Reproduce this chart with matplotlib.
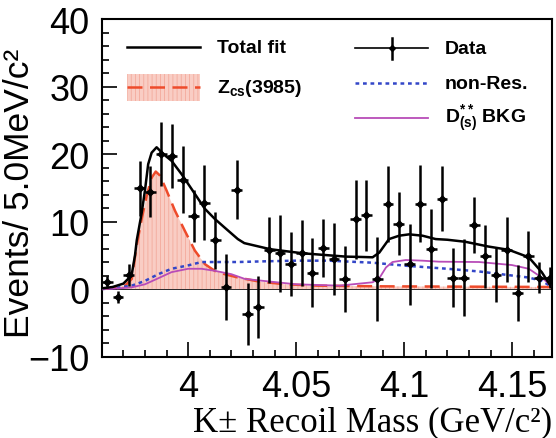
import numpy as np
import matplotlib
matplotlib.use("Agg")
import matplotlib.pyplot as plt
from matplotlib.ticker import MultipleLocator

plt.rcParams['font.family'] = ['Liberation Sans', 'DejaVu Sans']
plt.rcParams['mathtext.fontset'] = 'custom'
plt.rcParams['mathtext.rm'] = 'Liberation Sans:bold'
plt.rcParams['mathtext.default'] = 'rm'
plt.rcParams['hatch.linewidth'] = 0.6

# data histogram, 5 MeV bins starting at 3.96 GeV
bin_start = 3.96
bin_width = 0.005
counts = [1.1, -1.2, 2.1, 14.9, 14.4, 20.0, 19.7, 16.2, 10.8, 12.8,
          7.2, 0.25, 14.7, -3.7, -2.6, 5.8, 5.3, 3.7, 5.3, 2.4,
          6.1, 4.45, 1.5, 10.3, 10.9, 1.5, 12.6, 9.7, 3.7, 12.6,
          6.0, 13.4, 1.7, 1.7, 9.5, 4.85, 2.1, 5.8, -0.6, 4.85,
          1.7, 1.7]
errors = [0.9, 0.9, 1.6, 4.1, 3.8, 4.7, 4.7, 5.0, 3.8, 5.5,
          4.25, 4.9, 4.4, 4.6, 4.6, 4.9, 5.7, 4.7, 4.9, 5.1,
          4.3, 5.3, 4.9, 5.8, 5.2, 6.2, 5.6, 4.6, 6.0, 5.7,
          5.9, 4.8, 4.4, 5.7, 4.1, 4.7, 4.0, 4.8, 4.2, 3.8,
          2.3, 1.5]
centers = bin_start + bin_width * (np.arange(len(counts)) + 0.5)

# fit curves
total_x = [3.960, 3.965, 3.970, 3.9725, 3.9739, 3.9754, 3.9762, 3.9785, 3.980,
           3.9815, 3.9831, 3.9854, 3.9885, 3.9923, 3.997, 4.0031, 4.0077,
           4.0123, 4.0169, 4.023, 4.026, 4.038, 4.0528, 4.073, 4.080, 4.0854,
           4.0885, 4.093, 4.0977, 4.1023, 4.1085, 4.1146, 4.120, 4.1283,
           4.1389, 4.1485, 4.1577, 4.1637, 4.1677]
total_y = [0.1, 0.3, 0.8, 1.6, 2.2, 5.0, 7.2, 11.3, 14.6,
           18.5, 20.2, 21.0, 20.0, 19.0, 17.0, 14.1, 11.9,
           10.4, 9.1, 7.4, 6.8, 5.9, 5.3, 4.8, 4.75, 4.7,
           5.4, 7.4, 7.9, 8.1, 7.9, 7.4, 7.3, 7.0,
           6.3, 5.8, 4.7, 2.5, 0.5]

zcs_x = [3.960, 3.9646, 3.9708, 3.9739, 3.9762, 3.9785, 3.9808, 3.9831, 3.985,
         3.987, 3.990, 3.9939, 3.9985, 4.0031, 4.0077, 4.0123, 4.0169, 4.0231,
         4.033, 4.045, 4.060, 4.090, 4.130, 4.168]
zcs_y = [0.0, 0.15, 0.5, 1.5, 6.5, 10.4, 13.8, 16.5, 17.4,
         16.8, 14.6, 11.6, 8.6, 5.7, 3.7, 2.7, 2.2, 1.7,
         1.1, 0.7, 0.5, 0.4, 0.35, 0.3]

nonres_x = [3.960, 3.965, 3.9739, 3.980, 3.9862, 3.9923, 4.000, 4.0062, 4.0123,
            4.023, 4.035, 4.050, 4.065, 4.0854, 4.1008, 4.120, 4.1347, 4.1499,
            4.1577, 4.1637, 4.168]
nonres_y = [0.0, 0.1, 0.5, 1.2, 2.2, 3.0, 3.5, 4.0, 4.0,
            4.0, 4.1, 4.2, 4.2, 3.9, 3.45, 3.0, 2.6, 2.0,
            1.7, 1.2, 0.4]

dbkg_x = [3.960, 3.966, 3.9739, 3.980, 3.9862, 3.9923, 4.000, 4.0062, 4.0123,
          4.020, 4.0262, 4.035, 4.050, 4.070, 4.0854, 4.0885, 4.0916, 4.0946,
          4.1008, 4.1085, 4.1162, 4.1347, 4.1499, 4.1577, 4.1637, 4.168]
dbkg_y = [0.0, 0.05, 0.25, 0.7, 1.6, 2.5, 3.0, 3.0, 2.7,
          2.2, 1.5, 1.2, 0.7, 0.5, 1.0, 1.6, 3.2, 4.0,
          4.3, 4.2, 4.05, 4.0, 3.55, 3.0, 1.7, 0.5]

red = '#ee4b2b'
pink = '#f9cdc4'
blue = '#3346c8'
magenta = '#b84cb8'

fig = plt.figure(figsize=(5.56, 4.39), dpi=100)
ax = fig.add_axes([0.183, 0.1856, 0.81, 0.7688])

ax.axhline(0, color='black', lw=1.2, zorder=1)
ax.fill_between(zcs_x, 0, zcs_y, facecolor=pink, edgecolor='#f3aa9c',
                hatch='||||', lw=0, zorder=1)
ax.plot(zcs_x, zcs_y, color=red, lw=1.8, dashes=(6, 3), zorder=3)
ax.plot(nonres_x, nonres_y, color=blue, lw=1.8, dashes=(1.5, 1.5), zorder=3)
ax.plot(dbkg_x, dbkg_y, color=magenta, lw=1.3, zorder=3)
ax.plot(total_x, total_y, color='black', lw=1.8, zorder=4)
ax.errorbar(centers, counts, yerr=errors, xerr=bin_width / 2, fmt='D',
            color='black', ms=3.5, elinewidth=1.8, capsize=0, zorder=5)

ax.set_xlim(3.96, 4.1685)
ax.set_ylim(-10, 40)
ax.set_xticks([4.0, 4.05, 4.1, 4.15], ['4', '4.05', '4.1', '4.15'])
ax.set_yticks([-10, 0, 10, 20, 30, 40])
ax.xaxis.set_minor_locator(MultipleLocator(0.01))
ax.yaxis.set_minor_locator(MultipleLocator(2))
ax.tick_params(which='both', direction='in', top=False, right=False,
               labelsize=26, width=1.2)
ax.tick_params(axis='x', which='major', length=11, pad=9)
ax.tick_params(axis='y', which='major', length=11, pad=9)
ax.tick_params(which='minor', length=5)
for s in ax.spines.values():
    s.set_linewidth(1.5)

ax.set_ylabel('Events/ 5.0MeV/c²', fontsize=25.5)
ax.yaxis.set_label_coords(-0.145, 0.485)
ax.set_xlabel('K± Recoil Mass (GeV/c²)', fontsize=25,
              family=['Liberation Serif', 'DejaVu Serif'], ha='right',
              va='baseline')
ax.xaxis.set_label_coords(1.0, -0.2178)

# legend drawn by hand
tr = ax.transAxes
lfs = 14
ax.plot([0.0555, 0.2184], [0.916, 0.916], color='black', lw=1.8, transform=tr)
ax.text(0.2555, 0.916, 'Total fit', transform=tr, fontsize=lfs,
        fontweight='bold', va='center')
ax.fill_between([0.0555, 0.2184], 0.7585, 0.837, facecolor=pink,
                edgecolor='#f3aa9c', hatch='||||', lw=0, transform=tr)
ax.plot([0.0555, 0.2184], [0.7976, 0.7976], color=red, lw=1.8,
        dashes=(6, 3), transform=tr)
ax.text(0.2555, 0.7976, 'Z$_{cs}$(3985)', transform=tr, fontsize=lfs,
        fontweight='bold', va='center')

ax.plot([0.5625, 0.7253], [0.913, 0.913], color='black', lw=1.2, transform=tr)
ax.plot([0.6454, 0.6454], [0.883, 0.943], color='black', lw=1.8, transform=tr)
ax.plot([0.6454], [0.913], 'D', color='black', ms=3, transform=tr)
ax.text(0.7624, 0.913, 'Data', transform=tr, fontsize=lfs,
        fontweight='bold', va='center')
ax.plot([0.5625, 0.7253], [0.8104, 0.8104], color=blue, lw=1.8,
        dashes=(1.5, 1.5), transform=tr)
ax.text(0.7624, 0.8104, 'non-Res.', transform=tr, fontsize=lfs,
        fontweight='bold', va='center')
ax.plot([0.5625, 0.7253], [0.7058, 0.7058], color=magenta, lw=1.3,
        transform=tr)
ax.text(0.7624, 0.7058, 'D$^{**}_{(s)}$ BKG', transform=tr, fontsize=lfs,
        fontweight='bold', va='center')

fig.savefig('out.png', dpi=100)
